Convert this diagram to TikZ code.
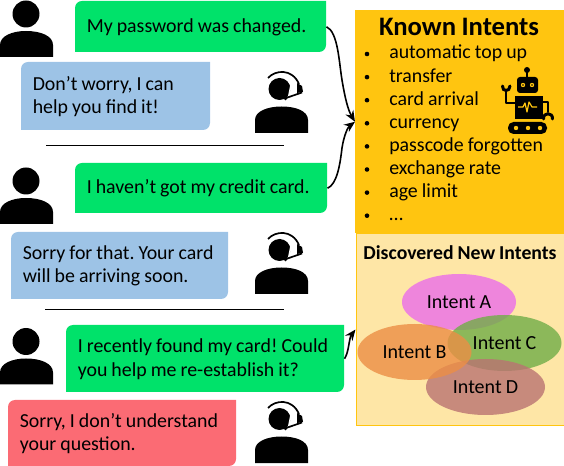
\documentclass[tikz,border=0pt]{standalone}
\usepackage{fontspec}
\setmainfont{Carlito}[WordSpace=0.9]
\frenchspacing
\usetikzlibrary{shapes.geometric,arrows.meta}
\definecolor{grn}{HTML}{00E26A}
\definecolor{blu}{HTML}{9DC3E6}
\definecolor{rd}{HTML}{FB6B74}
\definecolor{gold}{HTML}{FFC510}
\definecolor{pale}{HTML}{FEE6A6}
\definecolor{ia}{HTML}{EB6DEA}
\definecolor{ib}{HTML}{EC8E45}
\definecolor{ic}{HTML}{70AD47}
\definecolor{id}{HTML}{BA7372}
\def\u{0.75pt}
\newcommand{\bubble}[7]{%
  \fill[#6] (#2,#5) [rounded corners=7*\u] -- (#2,#3) [sharp corners] -- (#4,#3)
     [rounded corners=7*\u] -- (#4,#5) [sharp corners] -- cycle;
  \pgfmathsetmacro{\bw}{#4-#2}\pgfmathsetmacro{\bh}{#5-#3}
  \node[bubblebox,minimum width=\bw*\u,minimum height=\bh*\u] (#1) at (#2,#3) {};
  \node[bubbletext] (#1t) at ({#2+11.5},{(#3+#5)/2+0.5}) {#7};
}
\tikzset{
  x=0.75pt,y=-0.75pt,
  bubblebox/.style={anchor=north west,inner sep=0pt},
  bubbletext/.style={anchor=west,inner sep=0pt,align=left,
    font=\fontsize{14.9}{17.6}\selectfont},
  rulerline/.style={black,line width=1*\u},
  flow/.style={black,line width=1.6*\u,-{Stealth[length=11*\u,width=9*\u]}},
  intent/.style={ellipse,inner sep=0pt,fill opacity=0.8,text opacity=1,
    minimum height=56*\u,font=\fontsize{15}{17}\selectfont},
  item/.style={anchor=base west,inner sep=0pt,font=\fontsize{14.9}{17}\selectfont},
  userpic/.pic={
    \fill[black] (26,14) circle[radius=13.5];
    \fill[black] (0,57) -- (0,45) .. controls (0,36) and (12,31) .. (26,31)
       .. controls (41,31) and (53,36) .. (53,45) -- (53,57) -- cycle;
  },
  agentpic/.pic={
    \fill[black] (279.5,89) circle[radius=11];
    \draw[black,line width=1.7*\u] (268,78) .. controls (275,70) and (292,68) .. (299,84);
    \fill[black] (297,83) -- (302,86) -- (303,92) -- (297,93) -- cycle;
    \draw[white,line width=1.5*\u] (292,80) -- (288.5,97.5);
    \draw[white,line width=2.5*\u] (284,101) -- (302,95);
    \draw[black,line width=1.7*\u] (286,98) -- (302,92.5);
    \fill[black] (285.5,98.5) circle[radius=1.8];
    \fill[black] (255,133) -- (255,120) .. controls (255,111) and (268,106.5) .. (281.5,106.5)
       .. controls (296,106.5) and (308,111) .. (308,120) -- (308,133) -- cycle;
  },
}
\begin{document}
\begin{tikzpicture}
\useasboundingbox (0,0) rectangle (564,466);
% dialogue
\pic (u1) at (0,0) {userpic};
\pic (u2) at (0,167) {userpic};
\pic (u3) at (0,327.5) {userpic};
\pic (a1) at (0,0) {agentpic};
\pic (a2) at (0,161) {agentpic};
\pic (a3) at (0,330) {agentpic};
\bubble{g1}{75}{1}{326}{52}{grn}{My password was changed.}
\bubble{b1}{21}{62}{210}{130}{blu}{Don’t worry, I can\\help you find it!}
\bubble{g2}{75}{163}{327}{213}{grn}{I haven’t got my credit card.}
\bubble{b2}{11}{232}{228}{299}{blu}{Sorry for that. Your card\\will be arriving soon.}
\bubble{g3}{66}{325}{344}{392}{grn}{I recently found my card! Could\\you help me re-establish it?}
\bubble{r1}{8}{400}{236}{466}{rd}{Sorry, I don’t understand\\your question.}
\coordinate (r1a) at (46,146);
\coordinate (r1b) at (284,146);
\coordinate (r2a) at (45,310);
\coordinate (r2b) at (284,310);
\draw[rulerline] (r1a) -- (r1b);
\draw[rulerline] (r2a) -- (r2b);
% panels
\node[fill=gold,anchor=north west,inner sep=0pt,minimum width=209*\u,minimum height=223*\u] (known) at (355,10) {};
\node[fill=pale,draw=gold,line width=1*\u,anchor=north west,inner sep=0pt,minimum width=208*\u,minimum height=192*\u] (new) at (355.5,233) {};
\node[anchor=base,inner sep=0pt,font=\fontsize{20}{22}\selectfont\bfseries] (kt) at (459,36) {Known Intents};
\foreach \t [count=\i] in {automatic top up,transfer,card arrival,currency,passcode forgotten,exchange rate,age limit,…}{
  \pgfmathsetmacro{\yy}{59+(\i-1)*23.1}
  \node[item] (it\i) at (389,\yy) {\t};
  \fill[black] (367,\yy-5) circle[radius=2.3];
}
\node[anchor=base,inner sep=0pt,font=\fontsize{14.8}{16}\selectfont\bfseries] (nt) at (460,260) {Discovered New Intents};
% robot
\fill[black] (527,70) circle[radius=3];
\draw[black,line width=1.5*\u] (527,70) -- (527,78);
\fill[black,rounded corners=3*\u] (517,77) rectangle (538,93);
\fill[gold] (523,85) circle[radius=2.2];
\fill[gold] (532,85) circle[radius=2.2];
\fill[black] (523,85) circle[radius=0.9];
\fill[black] (532,85) circle[radius=0.9];
\fill[black] (515,96) rectangle (543,119);
\draw[gold,line width=1.2*\u,line join=round] (518,107) -- (523,107) -- (525,103) -- (527,112) -- (529,102) -- (532,107) -- (537,107);
\draw[black,line width=2.6*\u,line join=round] (515,103) -- (506,103) -- (506,92);
\draw[black,line width=3*\u,line cap=round] (502.5,86) .. controls (502,92) and (510,92) .. (510,86);
\draw[black,line width=2.6*\u,line join=round] (543,102) -- (548,102) -- (548,112);
\draw[black,line width=3*\u,line cap=round] (543.5,119) .. controls (543,112) and (553,112) .. (552.5,119);
\fill[black,rounded corners=5.5*\u] (508,122) rectangle (547,134);
\foreach \px in {516,528,540}{\fill[gold] (\px,128) circle[radius=2.2];}
% intents
\node[intent,fill=ia,minimum width=114*\u] (ea) at (459,302) {Intent A};
\node[intent,fill=ic,minimum width=114*\u] (ec) at (504.5,343) {Intent C};
\node[intent,fill=id,minimum width=119*\u] (ed) at (485.5,387) {Intent D};
\node[intent,fill=ib,minimum width=114*\u] (eb) at (414.5,352) {Intent B};
% connectors
\draw[flow] (g1.east) .. controls (338,32) and (339,62) .. (342,80) .. controls (345,98) and (348,110) .. (known.west);
\draw[flow] (g2.east) .. controls (337,184) and (340,165) .. (342,148) .. controls (344,135) and (348,127) .. (known.west);
\draw[flow] (g3.east) .. controls (349,352) and (349,338) .. (new.west);
\end{tikzpicture}
\end{document}
